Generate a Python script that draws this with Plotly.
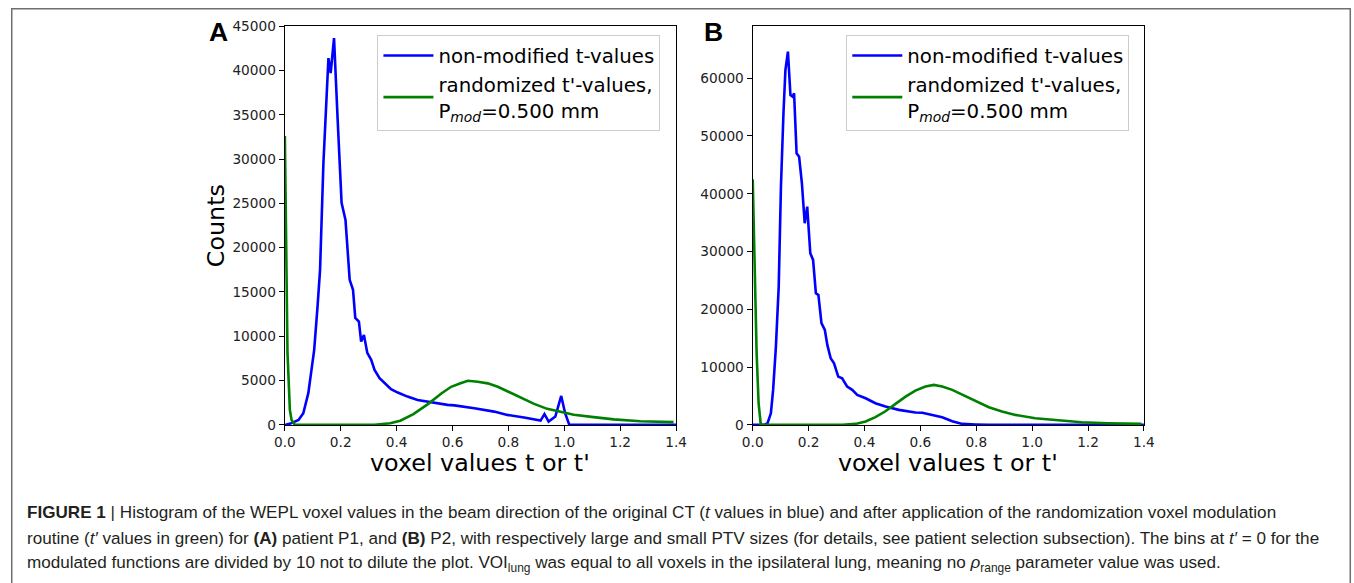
import plotly.graph_objects as go

# Figure size; positions below are given in target-picture pixels and mapped
# through the observed page framing (8px page margin, page framed at 1370x599).
FW, FH = 1362, 583
SX, SY = 1370 / 1354, 599 / 583
OFF = 8


def px(X):
    return (X * SX - OFF) / FW


def py(Y):
    return 1 - (Y * SY - OFF) / FH


# ---------------- data ----------------
# Panel A, blue: non-modified t-values
tA_x = [0.0, 0.02, 0.049, 0.066, 0.084, 0.105, 0.117, 0.126, 0.138, 0.156, 0.164, 0.176,
        0.189, 0.203, 0.217, 0.232, 0.244, 0.252, 0.265, 0.273, 0.283, 0.295, 0.309,
        0.321, 0.339, 0.362, 0.380, 0.404, 0.439, 0.475, 0.512, 0.523, 0.582, 0.607,
        0.641, 0.678, 0.749, 0.796, 0.856, 0.915, 0.929, 0.944, 0.968, 0.989, 1.003,
        1.018, 1.1, 1.2, 1.3, 1.4]
tA_y = [0, 150, 560, 1320, 3580, 8470, 13350, 17500, 29540, 41400, 39700, 43650,
        34430, 25060, 23140, 16370, 15240, 12080, 11660, 9400, 10160, 8130, 7340,
        6210, 5270, 4516, 4030, 3650, 3195, 2820, 2630, 2520, 2260, 2200,
        2070, 1880, 1500, 1130, 830, 490, 1210, 370, 940, 3270, 1320,
        0, 0, 0, 0, 0]

# Panel A, green: randomized t'-values
gA_x = [0.0, 0.0095, 0.018, 0.024, 0.036, 0.1, 0.2, 0.321, 0.377, 0.413, 0.460, 0.512,
        0.560, 0.595, 0.631, 0.655, 0.690, 0.726, 0.762, 0.797, 0.844, 0.892, 0.939,
        0.987, 1.034, 1.105, 1.177, 1.272, 1.391]
gA_y = [32600, 8130, 1690, 560, 0, 0, 0, 0, 190, 470, 1220, 2350,
        3550, 4300, 4720, 4980, 4870, 4690, 4310, 3790, 3120, 2370, 1810,
        1440, 1150, 880, 620, 420, 310]

# Panel B, blue: non-modified t-values
tB_x = [0.0, 0.042, 0.053, 0.065, 0.073, 0.083, 0.093, 0.101, 0.110, 0.117, 0.126,
        0.135, 0.143, 0.148, 0.157, 0.166, 0.176, 0.186, 0.195, 0.206, 0.216, 0.226,
        0.235, 0.246, 0.258, 0.267, 0.279, 0.291, 0.306, 0.320, 0.338, 0.356, 0.374,
        0.404, 0.439, 0.475, 0.523, 0.582, 0.607, 0.641, 0.654, 0.678, 0.714, 0.750,
        0.797, 0.845, 1.0, 1.2, 1.4]
tB_y = [0, 0, 290, 2000, 6060, 13550, 23930, 41230, 53930, 61420, 64590,
        57090, 56800, 57390, 47010, 46420, 41820, 34900, 37770, 29710, 28550, 22790,
        22490, 17600, 16440, 13840, 11540, 10670, 8360, 8080, 6630, 6060, 5190,
        4610, 3750, 3170, 2600, 2150, 2100, 1700, 1600, 1320, 620, 170,
        80, 0, 0, 0, 0]

# Panel B, green: randomized t'-values
gB_x = [0.0, 0.006, 0.014, 0.021, 0.029, 0.1, 0.2, 0.321, 0.368, 0.404, 0.439, 0.475,
        0.511, 0.547, 0.582, 0.618, 0.648, 0.678, 0.714, 0.750, 0.797, 0.845, 0.892,
        0.940, 1.011, 1.094, 1.177, 1.272, 1.391]
gB_y = [42510, 29710, 12400, 3750, 0, 0, 0, 0, 170, 580, 1330, 2360,
        3630, 4900, 5940, 6630, 6920, 6630, 6060, 5250, 4100, 3060, 2310,
        1730, 1150, 750, 460, 290, 170]

series_names = ["non-modified t-values",
                "randomized t'-values,<br>P<sub><i>mod</i></sub>=0.500 mm"]
panel_letters = ["A", "B"]
x_title = "voxel values t or t'"
y_title = "Counts"

caption_lines = [
    "<b>FIGURE 1</b> | Histogram of the WEPL voxel values in the beam direction of the original CT "
    "(<i>t</i> values in blue) and after application of the randomization voxel modulation",
    "routine (<i>t′</i> values in green) for <b>(A)</b> patient P1, and <b>(B)</b> P2, with respectively "
    "large and small PTV sizes (for details, see patient selection subsection). The bins at <i>t′</i> = 0 for the",
    "modulated functions are divided by 10 not to dilute the plot. VOI<sub>lung</sub> was equal to all "
    "voxels in the ipsilateral lung, meaning no <i>ρ</i><sub>range</sub> parameter value was used.",
]

BLUE = "#0000ff"
GREEN = "#008000"
MPL = "DejaVu Sans"

fig = go.Figure()
fig.add_trace(go.Scatter(x=tA_x, y=tA_y, mode="lines", name=series_names[0],
                         line=dict(color=BLUE, width=2.6), xaxis="x", yaxis="y", legend="legend"))
fig.add_trace(go.Scatter(x=gA_x, y=gA_y, mode="lines", name=series_names[1],
                         line=dict(color=GREEN, width=2.6), xaxis="x", yaxis="y", legend="legend"))
fig.add_trace(go.Scatter(x=tB_x, y=tB_y, mode="lines", name=series_names[0],
                         line=dict(color=BLUE, width=2.6), xaxis="x2", yaxis="y2", legend="legend2"))
fig.add_trace(go.Scatter(x=gB_x, y=gB_y, mode="lines", name=series_names[1],
                         line=dict(color=GREEN, width=2.6), xaxis="x2", yaxis="y2", legend="legend2"))

axis_common = dict(showline=True, mirror=True, linecolor="black", linewidth=1.3,
                   ticks="outside", ticklen=5, tickwidth=1.2, tickcolor="black",
                   showgrid=False, zeroline=False,
                   tickfont=dict(family=MPL, size=13.7, color="#222"))

ydom = [py(425), py(26)]
legend_common = dict(xanchor="left", yanchor="top",
                     bgcolor="rgba(255,255,255,0.85)", bordercolor="#cccccc", borderwidth=1,
                     font=dict(family=MPL, size=19.8, color="black"), itemwidth=50,
                     tracegroupgap=0)
fig.update_layout(
    width=FW, height=FH, autosize=False,
    margin=dict(l=0, r=0, t=0, b=0),
    paper_bgcolor="white", plot_bgcolor="white",
    xaxis=dict(domain=[px(283), px(676)], anchor="y", range=[0, 1.4], dtick=0.2,
               tick0=0, tickformat=".1f", **axis_common),
    yaxis=dict(domain=ydom, anchor="x", range=[0, 45000], dtick=5000, tickformat="d",
               **axis_common),
    xaxis2=dict(domain=[px(753), px(1146)], anchor="y2", range=[0, 1.4], dtick=0.2,
                tick0=0, tickformat=".1f", **axis_common),
    yaxis2=dict(domain=ydom, anchor="x2", range=[0, 69000], dtick=10000, tickformat="d",
                **axis_common),
    legend=dict(x=px(376), y=py(35), **legend_common),
    legend2=dict(x=px(847), y=py(35), **legend_common),
    showlegend=True,
)

ann = []
# panel letters
for letter, xpx in zip(panel_letters, [216, 714]):
    ann.append(dict(text="<b>%s</b>" % letter, x=px(xpx), y=py(32), xref="paper", yref="paper",
                    xanchor="center", yanchor="middle", showarrow=False,
                    font=dict(family="Liberation Sans", size=26.5, color="black")))
# axis titles
for cx in [(283 + 676) / 2, (753 + 1146) / 2]:
    ann.append(dict(text=x_title, x=px(cx), y=py(463), xref="paper", yref="paper",
                    xanchor="center", yanchor="middle", showarrow=False,
                    font=dict(family=MPL, size=23.8, color="black")))
ann.append(dict(text=y_title, x=px(214), y=py(226), xref="paper", yref="paper",
                xanchor="center", yanchor="middle", showarrow=False, textangle=-90,
                font=dict(family=MPL, size=23.8, color="black")))
# caption
for i, line in enumerate(caption_lines):
    ann.append(dict(text=line, x=px(22), y=py(513 + 25.5 * i), xref="paper", yref="paper",
                    xanchor="left", yanchor="middle", showarrow=False, align="left",
                    font=dict(family="Liberation Sans", size=17.1, color="#231f20")))
fig.update_layout(annotations=ann)

# figure border (open at the bottom)
bx0, bx1, by1 = 0.75 / FW, 1 - 0.75 / FW, 1 - 0.75 / FH
fig.add_shape(type="path", xref="paper", yref="paper",
              path="M %f,%f L %f,%f L %f,%f L %f,%f" % (bx0, -0.05, bx0, by1, bx1, by1, bx1, -0.05),
              line=dict(color="#6d6e71", width=1.5))

fig.write_html("out.html")
